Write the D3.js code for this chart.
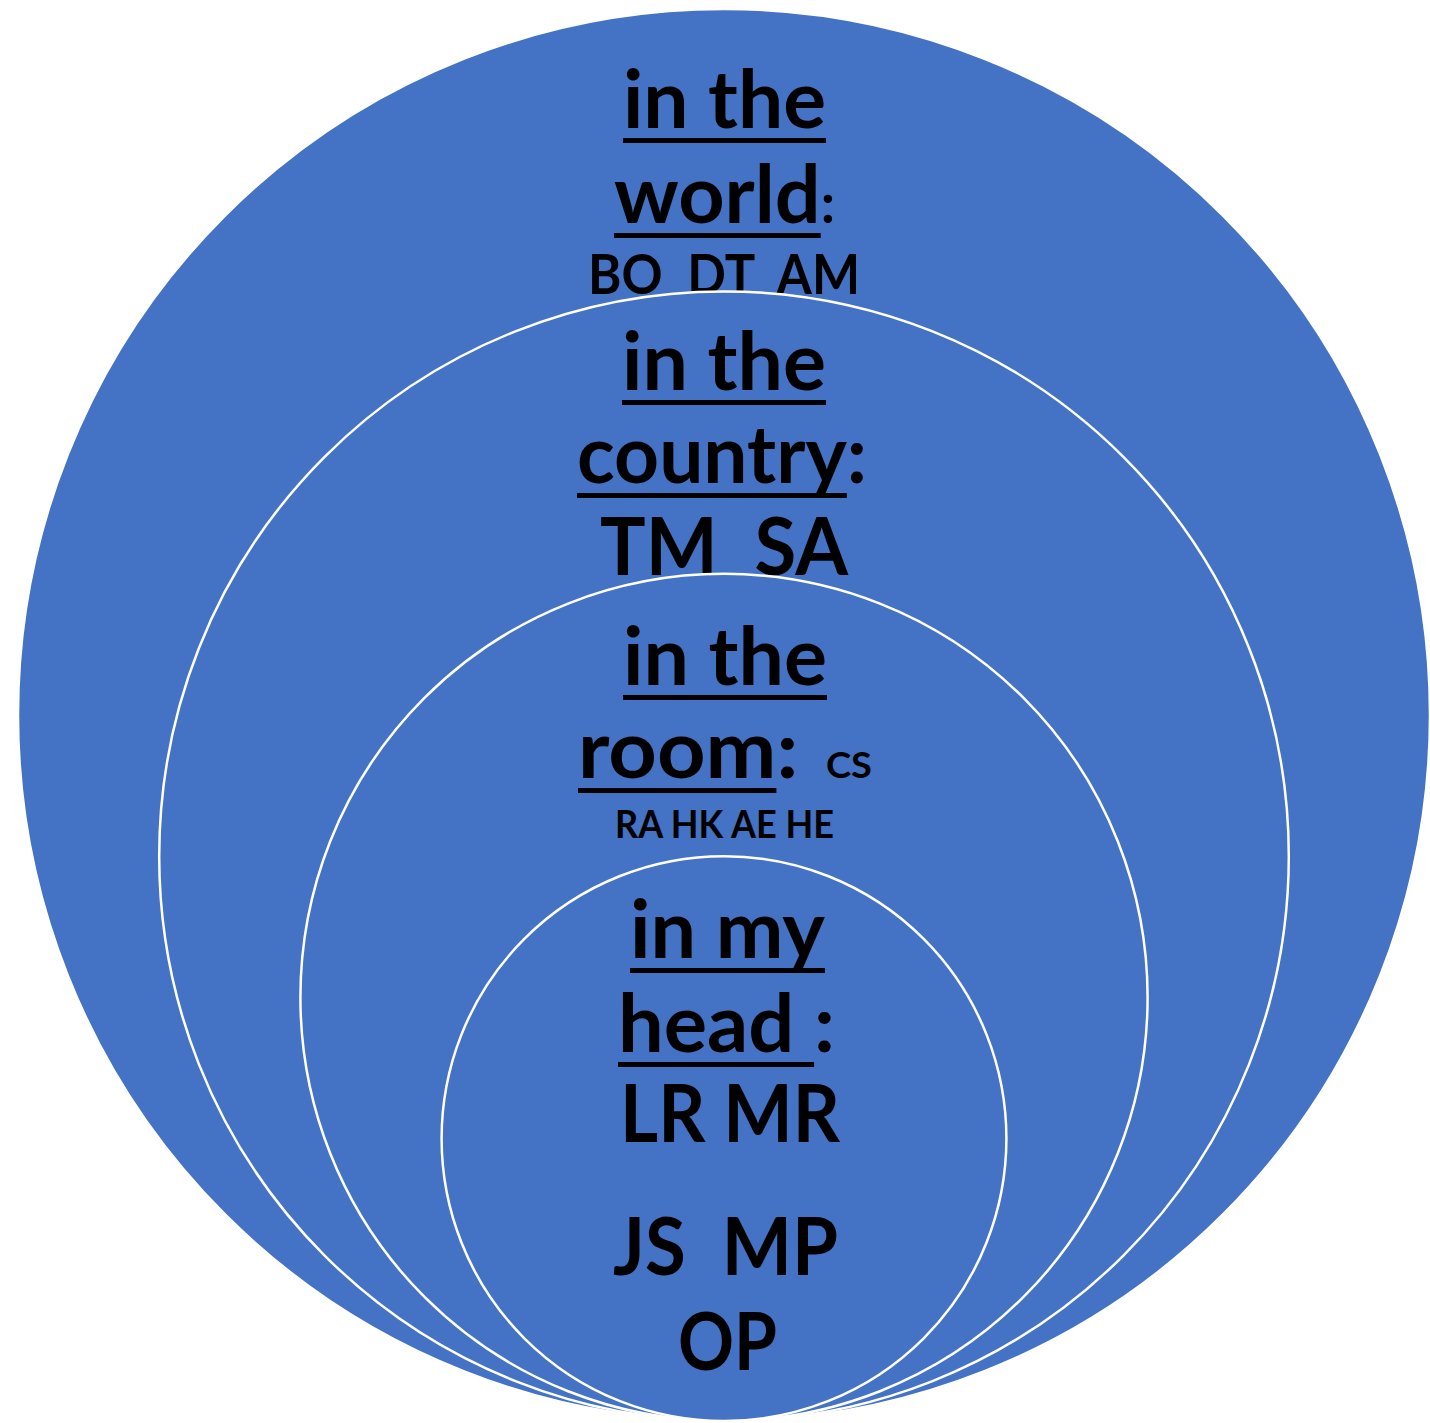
<!DOCTYPE html>
<html lang="en">
<head>
<meta charset="UTF-8">
<title>Circles of presence</title>
<script src="https://d3js.org/d3.v7.min.js"></script>
<style>
  body { margin: 0; background: #fff; }
  svg text { font-family: Lato, "Open Sans", sans-serif; font-weight: 700; fill: #000; }
</style>
</head>
<body>
<div id="chart"></div>
<script>
  // rings from outside to inside, size in relative units
  const ringNames = ["world", "country", "room", "head"];
  const ringSize = [5, 4, 3, 2];
  const ringPrefix = ["in the", "in the", "in the", "in my"];
  const ringPlace = ["world", "country", "room", "head "];
  const ringPeople = [["BO  DT  AM"], ["TM  SA"], ["CS", "RA HK AE HE"], ["LR MR", "JS  MP", "OP"]];

  const W = 1430, H = 1423;
  const cx = 724, bottom = 1421;
  const r = d3.scaleLinear().domain([0, 5]).range([0, 706]);

  // text layout for each ring: baseline y, left/right extent, parts
  function layout(i) {
    const pre = ringPrefix[i], place = ringPlace[i], ppl = ringPeople[i];
    if (i === 0) return [
      { y: 128, x0: 623, x1: 826, parts: [{ t: pre, s: 80, u: true }] },
      { y: 223, x0: 614, x1: 835, parts: [{ t: place, s: 80, u: true }, { t: ":", s: 55 }] },
      { y: 294, x0: 588, x1: 860, parts: [{ t: ppl[0], s: 55 }] }
    ];
    if (i === 1) return [
      { y: 390, x0: 622, x1: 826, parts: [{ t: pre, s: 80, u: true }] },
      { y: 483, x0: 577, x1: 867, parts: [{ t: place, s: 80, u: true }, { t: ":", s: 80 }] },
      { y: 575, x0: 600, x1: 848, parts: [{ t: ppl[0], s: 80 }] }
    ];
    if (i === 2) return [
      { y: 685, x0: 623, x1: 827, parts: [{ t: pre, s: 80, u: true }] },
      { y: 778, x0: 578, x1: 872, parts: [{ t: place, s: 80, u: true }, { t: ":", s: 80 }, { t: "   " + ppl[0], s: 36 }] },
      { y: 838, x0: 615, x1: 834, parts: [{ t: ppl[1], s: 38 }] }
    ];
    return [
      { y: 958, x0: 630, x1: 825, parts: [{ t: pre, s: 80, u: true }] },
      { y: 1052, x0: 618, x1: 835, parts: [{ t: place, s: 80, u: true }, { t: ":", s: 80 }] },
      { y: 1142, x0: 620, x1: 840, parts: [{ t: ppl[0], s: 80 }] },
      { y: 1275, x0: 613, x1: 838, parts: [{ t: ppl[1], s: 80 }] },
      { y: 1370, x0: 678, x1: 777, parts: [{ t: ppl[2], s: 80 }] }
    ];
  }

  const svg = d3.select("#chart").append("svg")
    .attr("width", W)
    .attr("height", H);

  ringNames.forEach((name, i) => {
    const rad = r(ringSize[i]);
    svg.append("circle")
      .attr("class", "ring ring-" + name)
      .attr("cx", cx)
      .attr("cy", bottom - rad)
      .attr("r", rad)
      .attr("fill", "#4472C4")
      .attr("stroke", "#fff")
      .attr("stroke-width", 2.5);

    const g = svg.append("g").attr("class", "label-" + name);
    layout(i).forEach(line => {
      const text = g.append("text")
        .attr("x", (line.x0 + line.x1) / 2)
        .attr("y", line.y)
        .attr("text-anchor", "middle")
        .style("white-space", "pre");

      // one tspan per run of equal font size
      const runs = [];
      line.parts.forEach(p => {
        const last = runs[runs.length - 1];
        if (last && last.s === p.s) last.t += p.t;
        else runs.push({ t: p.t, s: p.s });
      });
      runs.forEach(run => {
        text.append("tspan").attr("font-size", run.s).text(run.t);
      });
      const node = text.node();
      node.setAttribute("textLength", line.x1 - line.x0);
      node.setAttribute("lengthAdjust", "spacingAndGlyphs");

      // underlines drawn by hand so thickness matches
      let idx = 0;
      line.parts.forEach(p => {
        if (p.u) {
          const a = node.getStartPositionOfChar(idx).x;
          const b = node.getEndPositionOfChar(idx + p.t.length - 1).x;
          g.append("rect")
            .attr("x", a)
            .attr("y", line.y + 10)
            .attr("width", b - a)
            .attr("height", 5)
            .attr("fill", "#000");
        }
        idx += p.t.length;
      });
    });
  });
</script>
</body>
</html>
